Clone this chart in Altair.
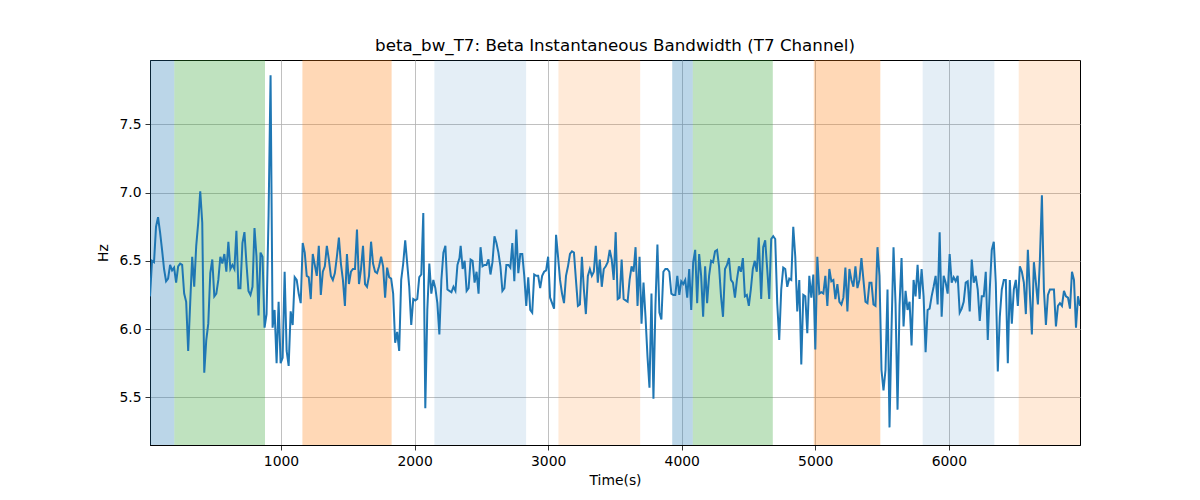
import numpy as np
import pandas as pd
import altair as alt

# --- data ---
seg_bounds = [(19, 2336), (2345, 4577), (4595, 6982)]

seg1 = [6.24,6.50,6.49,6.75,6.82,6.71,6.58,6.44,6.35,6.37,6.47,6.43,6.45,6.34,6.46,6.48,6.47,6.26,6.20,5.84,
        6.19,6.53,6.31,6.61,6.78,7.01,6.78,5.68,5.92,6.04,6.41,6.51,6.24,6.26,6.36,6.53,6.48,6.55,6.42,6.64,
        6.44,6.47,6.44,6.72,6.30,6.30,6.63,6.71,6.48,6.28,6.25,6.31,6.74,6.53,6.10,6.56,6.53,6.01,6.11,6.83,
        7.86,6.01,6.14,5.75,6.20,5.75,5.79,6.42,5.84,5.73,6.13,6.03,6.38,6.36,6.26,6.19,6.63,6.56,6.39,6.38,
        6.22,6.55,6.47,6.39,6.61,6.25,6.42,6.46,6.61,6.51,6.39,6.36,6.41,6.53,6.67,6.48,6.36,6.17,6.55,6.33,
        6.42,6.44,6.44,6.73,6.33,6.44,6.61,6.33,6.31,6.39,6.64,6.48,6.42,6.41,6.46,6.53,6.46,6.23,6.45,6.38,
        6.37,6.26,5.90,5.98,5.84,6.36,6.48,6.65,6.48,6.31,6.03,6.22,6.21,6.22,6.38,6.40,6.85,5.42,6.14,6.48,
        6.26,6.36,6.30,6.19,5.96,6.36,6.56,6.61,6.29,6.28,6.27,6.31,6.28,6.47,6.52]

seg2 = [6.61,6.44,6.50,6.28,6.30,6.51,6.50,6.34,6.42,6.26,6.60,6.46,6.47,6.47,6.51,6.40,6.49,6.68,6.63,6.56,
        6.46,6.28,6.30,6.47,6.47,6.45,6.63,6.35,6.73,6.41,6.55,6.55,6.39,6.17,6.38,6.14,6.12,6.40,6.39,6.39,
        6.30,6.39,6.42,6.43,6.53,6.23,6.19,6.15,6.69,6.53,6.36,6.26,6.19,6.39,6.46,6.55,6.57,6.56,6.36,6.17,
        6.18,6.53,6.29,6.11,6.39,6.44,6.39,6.42,6.61,6.34,6.51,6.31,6.44,6.46,6.49,6.58,6.51,6.36,6.71,6.22,
        6.23,6.51,6.22,6.21,6.20,6.36,6.46,6.42,6.60,6.17,6.53,6.04,6.34,6.09,5.80,5.57,6.26,5.49,6.17,6.62,
        6.12,6.07,6.42,6.44,6.44,6.42,6.26,6.25,6.25,6.39,6.25,6.35,6.33,6.36,6.23,6.44,6.14,6.49,6.58,6.19,
        6.55,6.39,6.09,6.46,6.19,6.39,6.50,6.49,6.57,6.58,6.46,6.24,6.09,6.44,6.47,6.52,6.36,6.34,6.23,6.36,
        6.46,6.42,6.52,6.24,6.25,6.17,6.29,6.44,6.50,6.42,6.67]

seg3 = [6.22,6.60,6.65,6.44,6.22,6.66,6.68,6.66,6.19,5.92,6.29,6.45,6.44,6.31,6.37,6.36,6.75,6.53,6.13,6.36,
        5.74,6.25,6.24,5.97,6.39,6.23,6.40,5.85,6.53,6.26,6.27,6.26,6.39,6.17,6.44,6.35,6.36,6.22,6.33,6.20,
        6.18,6.23,6.45,6.13,6.44,6.36,6.31,6.46,6.30,6.36,6.52,6.36,6.20,6.19,6.34,6.34,6.18,6.17,6.60,6.39,
        5.70,5.55,5.70,6.29,5.28,6.00,6.60,6.19,5.41,6.17,6.52,6.02,6.28,6.14,6.20,5.88,6.36,6.24,6.47,6.22,
        6.44,6.24,5.83,6.14,6.15,6.24,6.31,6.39,6.18,6.71,6.09,6.39,6.34,6.26,6.55,6.34,6.38,6.35,6.39,6.12,
        6.15,6.20,6.34,6.35,6.13,6.51,6.34,6.39,6.29,6.06,6.24,6.24,6.42,5.92,6.29,6.58,6.64,6.34,5.69,6.09,
        6.29,6.36,6.36,5.75,6.36,6.04,6.29,6.36,6.17,6.46,6.42,6.34,6.11,6.58,6.26,5.96,6.49,6.34,6.18,6.51,
        6.98,6.29,6.03,6.25,6.29,6.29,6.29,6.02,6.17,6.19,6.17,6.28,6.24,6.23,6.15,6.42,6.36,6.01,6.24,6.17]

band_start = [19, 201, 1160, 2148, 3077, 3929, 4083, 4989, 5804, 6523]
band_end = [201, 880, 1828, 2835, 3689, 4083, 4682, 5487, 6341, 6990]
band_color = ["#1f77b4", "#2ca02c", "#ff7f0e", "#1f77b4", "#ff7f0e",
              "#1f77b4", "#2ca02c", "#ff7f0e", "#1f77b4", "#ff7f0e"]
band_opacity = [0.3, 0.3, 0.3, 0.12, 0.16, 0.3, 0.3, 0.3, 0.12, 0.16]

x_ticks = [1000, 2000, 3000, 4000, 5000, 6000]
y_ticks = [5.5, 6.0, 6.5, 7.0, 7.5]
x_domain = [19, 6982]
y_domain = [5.151, 7.971]

# --- build tables ---
times, vals = [], []
for (t0, t1), seg in zip(seg_bounds, [seg1, seg2, seg3]):
    times.extend(np.linspace(t0, t1, len(seg)).tolist())
    vals.extend(seg)
line_df = pd.DataFrame({"t": times, "v": vals})
band_df = pd.DataFrame({"s": band_start, "e": band_end, "c": band_color, "o": band_opacity})

FONT = "DejaVu Sans"

bands = alt.Chart(band_df).mark_rect(clip=True).encode(
    x=alt.X("s:Q", scale=alt.Scale(domain=x_domain, nice=False, zero=False),
            axis=alt.Axis(values=x_ticks, title="Time(s)", format="d")),
    x2="e:Q",
    color=alt.Color("c:N", scale=None),
    opacity=alt.Opacity("o:Q", scale=None),
)

line = alt.Chart(line_df).mark_line(color="#1f77b4", strokeWidth=2, clip=True).encode(
    x=alt.X("t:Q", scale=alt.Scale(domain=x_domain, nice=False, zero=False),
            axis=alt.Axis(values=x_ticks, title="Time(s)", format="d")),
    y=alt.Y("v:Q", scale=alt.Scale(domain=y_domain, nice=False, zero=False),
            axis=alt.Axis(values=y_ticks, title="Hz", format=".1f")),
)

chart = alt.layer(bands, line).properties(
    width=930,
    height=385,
    autosize=alt.AutoSizeParams(type="none"),
    padding={"left": 142, "top": 52, "right": 112, "bottom": 47},
    title=alt.TitleParams(
        "beta_bw_T7: Beta Instantaneous Bandwidth (T7 Channel)",
        font=FONT, fontSize=16.7, fontWeight="normal", color="black",
        anchor="middle", offset=5,
    ),
).configure_view(
    stroke="black", strokeWidth=1
).configure_axis(
    labelFont=FONT, labelFontSize=13.9, labelColor="black",
    titleFont=FONT, titleFontSize=13.9, titleFontWeight="normal", titleColor="black",
    grid=True, gridColor="#b0b0b0", gridWidth=0.8,
    tickColor="black", tickSize=5, tickWidth=0.8,
    domainColor="black", domainWidth=1,
    labelPadding=4,
).configure_axisX(
    titlePadding=6,
).configure_axisY(
    titlePadding=8,
)

chart.save("out.html", embed_options={"renderer": "svg", "actions": False})
